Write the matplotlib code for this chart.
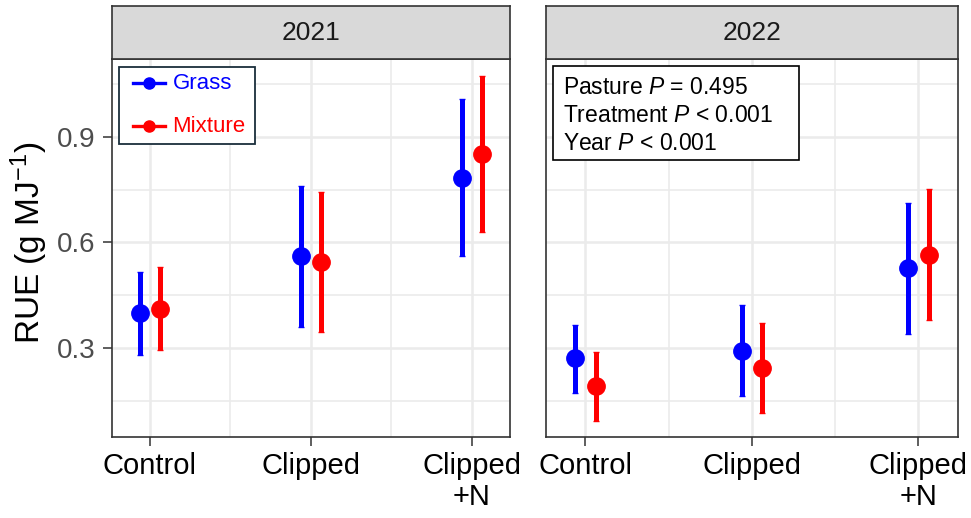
import matplotlib
matplotlib.use('Agg')
import matplotlib.pyplot as plt
import numpy as np
from matplotlib.patches import Rectangle

plt.rcParams['font.family'] = ['Liberation Sans', 'DejaVu Sans']
plt.rcParams['mathtext.fontset'] = 'custom'
plt.rcParams['mathtext.rm'] = 'Liberation Sans'
plt.rcParams['mathtext.it'] = 'Liberation Sans:italic'

years = ['2021', '2022']
treatments = ['Control', 'Clipped', 'Clipped\n+N']
pastures = ['Grass', 'Mixture']

# means and 95% CI bounds, Control / Clipped / Clipped+N
grass_2021 = [0.398, 0.560, 0.782]
grass_2021_lo = [0.279, 0.359, 0.560]
grass_2021_hi = [0.515, 0.760, 1.006]
mix_2021 = [0.412, 0.543, 0.851]
mix_2021_lo = [0.294, 0.345, 0.629]
mix_2021_hi = [0.530, 0.744, 1.072]

grass_2022 = [0.270, 0.291, 0.526]
grass_2022_lo = [0.171, 0.164, 0.339]
grass_2022_hi = [0.365, 0.422, 0.713]
mix_2022 = [0.192, 0.244, 0.565]
mix_2022_lo = [0.093, 0.114, 0.378]
mix_2022_hi = [0.289, 0.372, 0.752]

stats_lines = [r'Pasture $P$ = 0.495', r'Treatment $P$ < 0.001', r'Year $P$ < 0.001']

BLUE = '#0000FF'
RED = '#FF0000'
DARK = '#333333'
GRID = '#EBEBEB'
colors = [BLUE, RED]

fig = plt.figure(figsize=(9.71, 5.18), dpi=100)

panel_left = [0.1150, 0.5623]
panel_width = [0.4102, 0.4240]
panel_bottom = 0.1564
panel_height = 0.7291
strip_height = 0.1029

series = {
    '2021': [(grass_2021, grass_2021_lo, grass_2021_hi), (mix_2021, mix_2021_lo, mix_2021_hi)],
    '2022': [(grass_2022, grass_2022_lo, grass_2022_hi), (mix_2022, mix_2022_lo, mix_2022_hi)],
}

x = np.arange(1, len(treatments) + 1)
dodge = 0.062
axes = []
for i, yr in enumerate(years):
    ax = fig.add_axes([panel_left[i], panel_bottom, panel_width[i], panel_height])
    axes.append(ax)
    ax.set_xlim(1 - 0.237, 3 + 0.237)
    ax.set_ylim(0.047, 1.12)

    # grid (major + minor), ggplot-style
    ax.set_yticks([0.3, 0.6, 0.9])
    ax.set_yticks([0.15, 0.45, 0.75, 1.05], minor=True)
    ax.set_xticks(x)
    ax.set_xticks([1.5, 2.5], minor=True)
    ax.grid(which='major', color=GRID, linewidth=1.8)
    ax.grid(which='minor', color=GRID, linewidth=1.2)
    ax.set_axisbelow(True)
    ax.tick_params(which='minor', length=0)
    ax.tick_params(which='major', length=6.5, width=1.1, color=DARK)
    ax.tick_params(axis='x', labelsize=21, pad=4, labelcolor='black')
    ax.set_xticklabels(treatments, linespacing=1.15)
    for sp in ax.spines.values():
        sp.set_color(DARK)
        sp.set_linewidth(1.2)

    for k, (vals, lo, hi) in enumerate(series[yr]):
        xs = x + (-dodge if k == 0 else dodge)
        vals = np.array(vals)
        yerr = [vals - np.array(lo), np.array(hi) - vals]
        ax.errorbar(xs, vals, yerr=yerr, fmt='o', color=colors[k], ms=12.5,
                    elinewidth=3.6, capsize=2.0, capthick=1.0, zorder=3)

    # facet strip
    sax = fig.add_axes([panel_left[i], panel_bottom + panel_height, panel_width[i], strip_height])
    sax.set_facecolor('#D9D9D9')
    sax.set_xticks([])
    sax.set_yticks([])
    for sp in sax.spines.values():
        sp.set_color(DARK)
        sp.set_linewidth(1.2)
    sax.text(0.5, 0.5, yr, ha='center', va='center', fontsize=19, color='#1A1A1A',
             transform=sax.transAxes)

ax1, ax2 = axes
ax1.tick_params(axis='y', labelsize=20, labelcolor='#4D4D4D', pad=5)
ax1.set_ylabel(r'RUE (g MJ$^{\mathregular{-1}}$)', fontsize=24, va='center')
ax1.yaxis.set_label_coords(-0.208, 0.515)
ax2.tick_params(axis='y', left=False, labelleft=False)

# pasture key in the 2021 panel
ax1.add_patch(Rectangle((0.0183, 0.775), 0.342, 0.205, transform=ax1.transAxes,
                        facecolor='white', edgecolor='#1a2e3b', linewidth=1.3, zorder=4))
for yy, name, col in zip([0.9365, 0.8234], pastures, colors):
    ax1.plot([0.0528, 0.134], [yy, yy], color=col, lw=2.4, transform=ax1.transAxes, zorder=5)
    ax1.plot([0.0945], [yy], 'o', color=col, ms=8, transform=ax1.transAxes, zorder=5)
    ax1.text(0.153, yy, name, color=col, fontsize=16, ha='left', va='center',
             transform=ax1.transAxes, zorder=5)

# statistics box in the 2022 panel
ax2.add_patch(Rectangle((0.0177, 0.733), 0.597, 0.25, transform=ax2.transAxes,
                        facecolor='white', edgecolor='black', linewidth=1.2, zorder=4))
for yy, line in zip([0.907, 0.835, 0.760], stats_lines):
    ax2.text(0.042, yy, line, transform=ax2.transAxes, fontsize=16.5, ha='left',
             va='baseline', color='black', zorder=5)

fig.savefig('out.png', dpi=100)
